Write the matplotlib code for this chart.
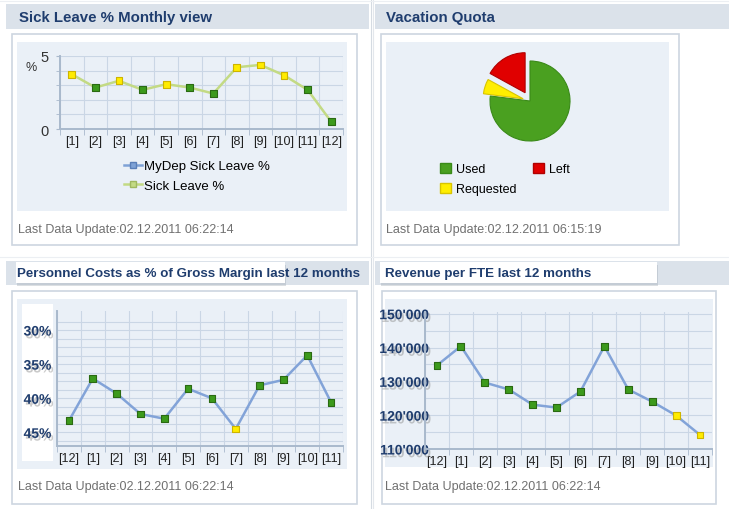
import matplotlib.pyplot as plt
import matplotlib.patheffects as pe
from matplotlib.patches import Rectangle, Patch
from matplotlib.lines import Line2D
from matplotlib.ticker import FuncFormatter

plt.rcParams['font.family'] = ['Liberation Sans', 'DejaVu Sans']

# ---- data ----
sick_months = ['[1]', '[2]', '[3]', '[4]', '[5]', '[6]', '[7]', '[8]', '[9]', '[10]', '[11]', '[12]']
sick_leave = [3.75, 2.84, 3.30, 2.68, 3.07, 2.84, 2.43, 4.23, 4.39, 3.68, 2.68, 0.50]
sick_status = ['warn', 'ok', 'warn', 'ok', 'warn', 'ok', 'ok', 'warn', 'warn', 'warn', 'ok', 'ok']

vac_labels = ['Used', 'Requested', 'Left']
vac_values = [77, 6, 17]

last12_months = ['[12]', '[1]', '[2]', '[3]', '[4]', '[5]', '[6]', '[7]', '[8]', '[9]', '[10]', '[11]']
personnel_costs = [43.3, 37.1, 39.3, 42.3, 43.0, 38.6, 40.0, 44.5, 38.1, 37.3, 33.7, 40.6]
personnel_status = ['ok', 'ok', 'ok', 'ok', 'ok', 'ok', 'ok', 'warn', 'ok', 'ok', 'ok', 'ok']

revenue_fte = [134700, 140400, 129650, 127600, 123100, 122250, 127000, 140400, 127600, 124000, 119900, 114150]
revenue_status = ['ok', 'ok', 'ok', 'ok', 'ok', 'ok', 'ok', 'ok', 'ok', 'ok', 'warn', 'warn']

# ---- colours ----
TITLE = '#1f3d6e'
HEADER = '#dbe2ea'
BORDER = '#cdd6e0'
INNER = '#eaf0f7'
GRID = '#cad6e5'
SPINE = '#a9b9cc'
GRAY_TXT = '#707070'
face = {'ok': '#3c9a1c', 'warn': '#ffec00'}
edge = {'ok': '#2a6a12', 'warn': '#cdb400'}

W, H = 729, 510


def rect(x0, y0, x1, y1):
    # pixel box (top-left origin) -> figure fraction
    return [x0 / W, 1 - y1 / H, (x1 - x0) / W, (y1 - y0) / H]


fig = plt.figure(figsize=(W / 100, H / 100), dpi=100)
fig.patch.set_facecolor('white')

bg = fig.add_axes([0, 0, 1, 1], zorder=0)
bg.set_xlim(0, W)
bg.set_ylim(H, 0)
bg.axis('off')


def box(x0, y0, x1, y1, fc, ec='none', lw=0):
    bg.add_patch(Rectangle((x0, y0), x1 - x0, y1 - y0, facecolor=fc, edgecolor=ec, linewidth=lw))


# headers
for x0, x1, y0, y1 in [(6, 369, 5, 30), (375, 729, 5, 30), (6, 369, 262, 286), (375, 729, 262, 286)]:
    box(x0, y0, x1, y1, HEADER)
bg.plot([371.5, 371.5], [0, H], color='#d5dbe2', lw=0.8)
bg.plot([373.5, 373.5], [0, H], color='#e3e7ec', lw=0.8)
bg.plot([0, W], [2, 2], color='#eceff3', lw=0.8)
bg.plot([0, W], [258, 258], color='#eceff3', lw=0.8)

# cards
box(12, 35, 357, 246, 'white', BORDER, 1.2)
box(381, 35, 679, 246, 'white', BORDER, 1.2)
box(12, 292, 357, 505, 'white', BORDER, 1.2)
box(382, 292, 716, 505, 'white', BORDER, 1.2)

# inner plot areas
box(17, 43, 347, 212, INNER)
box(386, 43, 669, 212, INNER)
box(17, 300, 347, 470, INNER)
box(385, 300, 713, 468, INNER)
box(22, 305, 53, 462, 'white')

# white boxes behind lower titles
shadow = [pe.withSimplePatchShadow(offset=(1, -2), shadow_rgbFace='#9aa4ae', alpha=0.35)]
bg.add_patch(Rectangle((16, 263), 269, 21, facecolor='white', edgecolor='none', path_effects=shadow))
bg.add_patch(Rectangle((380, 263), 277, 21, facecolor='white', edgecolor='none', path_effects=shadow))

# titles
bg.text(19, 18, 'Sick Leave % Monthly view', fontsize=10.8, fontweight='bold', color=TITLE, va='center')
bg.text(386, 18, 'Vacation Quota', fontsize=10.8, fontweight='bold', color=TITLE, va='center')
bg.text(17, 274, 'Personnel Costs as % of Gross Margin last 12 months', fontsize=9.6, fontweight='bold',
        color=TITLE, va='center')
bg.text(385, 274, 'Revenue per FTE last 12 months', fontsize=9.6, fontweight='bold', color=TITLE, va='center')

# footers
bg.text(18, 230, 'Last Data Update:02.12.2011 06:22:14', fontsize=9, color=GRAY_TXT, va='center')
bg.text(386, 230, 'Last Data Update:02.12.2011 06:15:19', fontsize=9, color=GRAY_TXT, va='center')
bg.text(18, 487, 'Last Data Update:02.12.2011 06:22:14', fontsize=9, color=GRAY_TXT, va='center')
bg.text(385, 487, 'Last Data Update:02.12.2011 06:22:14', fontsize=9, color=GRAY_TXT, va='center')


def line_panel(ax, labels, values, status, line_color):
    n = len(values)
    xs = list(range(n))
    ax.set_facecolor('none')
    ax.plot(xs, values, color=line_color, lw=1.8, zorder=2)
    ax.scatter(xs, values, marker='s', s=24, c=[face[s] for s in status],
               edgecolors=[edge[s] for s in status], linewidths=0.8, zorder=3)
    ax.set_xlim(-0.5, n - 0.5)
    ax.set_xticks(xs)
    ax.set_xticklabels(labels, fontsize=9, color='#222222')
    ax.set_xticks([i - 0.5 for i in range(n + 1)], minor=True)
    ax.tick_params(axis='x', which='major', length=0, pad=4)
    ax.tick_params(axis='x', which='minor', length=4, color=SPINE)
    ax.grid(which='minor', axis='x', color=GRID, lw=0.8)
    ax.grid(which='both', axis='y', color=GRID, lw=0.8)
    ax.set_axisbelow(True)
    for s in ['top', 'right']:
        ax.spines[s].set_visible(False)
    for s in ['left', 'bottom']:
        ax.spines[s].set_color(SPINE)
        ax.spines[s].set_linewidth(1.4)
    ax.tick_params(axis='y', which='both', color=SPINE, length=3)


# ---- panel 1: sick leave ----
ax1 = fig.add_axes(rect(60, 57, 343, 130), zorder=1)
line_panel(ax1, sick_months, sick_leave, sick_status, '#c3da84')
ax1.set_ylim(0, 5)
ax1.set_yticks([0, 5])
ax1.set_yticks([1, 2, 3, 4], minor=True)
ax1.tick_params(axis='y', which='major', labelsize=10.5, labelcolor='#333333', pad=5)
bg.text(31, 68, '%', fontsize=9, color='#333333', va='center', ha='center')
leg1 = ax1.legend(handles=[Line2D([], [], color='#7fa2d6', lw=1.8, marker='s', markersize=5,
                                  markerfacecolor='#7fa2d6', markeredgecolor='#5a7fb8'),
                           Line2D([], [], color='#c3da84', lw=1.8, marker='s', markersize=5,
                                  markerfacecolor='#c3da84', markeredgecolor='#9fb860')],
                  labels=['MyDep Sick Leave %', 'Sick Leave %'], loc='upper left',
                  bbox_to_anchor=(124, 161), bbox_transform=bg.transData, frameon=False,
                  fontsize=9.5, handlelength=1.4, handletextpad=0.1, labelspacing=0.55,
                  borderaxespad=0, borderpad=0)

# ---- panel 2: vacation quota ----
ax2 = fig.add_axes(rect(478, 50, 582, 154), zorder=1)
wedges, _ = ax2.pie(vac_values, colors=['#4aa020', '#ffee00', '#e00000'], startangle=90,
                    counterclock=False, explode=[0, 0.18, 0.24])
for w, ec in zip(wedges, ['#3a8a18', '#d8c400', '#b00000']):
    w.set_edgecolor(ec)
    w.set_linewidth(0.8)
ax2.set_xlim(-1.3, 1.3)
ax2.set_ylim(-1.3, 1.3)
ax2.set_aspect('equal')
ax2.legend(handles=[Patch(facecolor='#4aa020', edgecolor='#3a8a18'),
                    Patch(facecolor='#ffee00', edgecolor='#d8c400'),
                    Patch(facecolor='#e00000', edgecolor='#b00000')],
           labels=vac_labels, ncol=2, loc='upper left', bbox_to_anchor=(440, 164),
           bbox_transform=bg.transData, frameon=False, fontsize=9, handlelength=0.9,
           handleheight=0.9, handletextpad=0.4, columnspacing=1.3, labelspacing=0.6,
           borderaxespad=0, borderpad=0)

label_fx = [pe.withSimplePatchShadow(offset=(1.5, -2), shadow_rgbFace='#8a8a8a', alpha=0.45)]

# ---- panel 3: personnel costs ----
ax3 = fig.add_axes(rect(57, 312, 343, 447), zorder=1)
line_panel(ax3, last12_months, personnel_costs, personnel_status, '#82a3d8')
ax3.set_ylim(47, 27.2)
ax3.set_yticks([30, 35, 40, 45])
ax3.set_yticks([28.75, 31.25, 32.5, 33.75, 36.25, 37.5, 38.75, 41.25, 42.5, 43.75, 46.25], minor=True)
ax3.yaxis.set_major_formatter(FuncFormatter(lambda v, p: f'{v:.0f}%'))
ax3.tick_params(axis='y', which='both', length=0, pad=4)
for t in ax3.get_yticklabels():
    t.set_fontsize(10)
    t.set_fontweight('bold')
    t.set_color(TITLE)
    t.set_path_effects(label_fx)

# ---- panel 4: revenue per FTE ----
ax4 = fig.add_axes(rect(425, 313, 712, 450), zorder=1)
line_panel(ax4, last12_months, revenue_fte, revenue_status, '#82a3d8')
ax4.set_ylim(110000, 150500)
ax4.set_yticks([110000, 120000, 130000, 140000, 150000])
ax4.set_yticks([115000, 125000, 135000, 145000], minor=True)
ax4.yaxis.set_major_formatter(FuncFormatter(lambda v, p: f"{v / 1000:.0f}'000"))
ax4.tick_params(axis='y', which='both', length=0, pad=-3)
for t in ax4.get_yticklabels():
    t.set_fontsize(10)
    t.set_fontweight('bold')
    t.set_color(TITLE)
    t.set_path_effects(label_fx)

fig.savefig('out.png', dpi=100)
